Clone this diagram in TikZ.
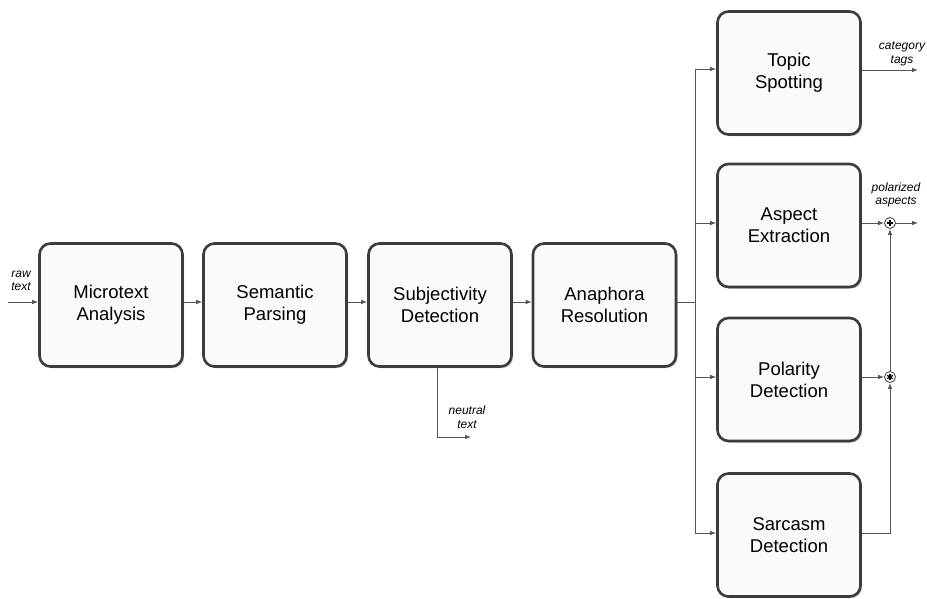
\documentclass[tikz,border=0pt]{standalone}
\usepackage{fontspec}
\setmainfont{Liberation Sans}
\usetikzlibrary{arrows.meta,shadows}
\definecolor{boxline}{HTML}{3C3C3C}
\definecolor{wire}{HTML}{555555}
\definecolor{boxfill}{HTML}{FAFAFA}
\begin{document}
\begin{tikzpicture}[x=1pt,y=-1pt,
  stage/.style={draw=boxline, line width=2.6pt, rounded corners=11pt, fill=boxfill,
    minimum width=143pt, minimum height=123pt, align=center,
    font=\fontsize{18.5}{22}\selectfont,
    drop shadow={shadow xshift=1.6pt, shadow yshift=-1.6pt, fill=black!45, opacity=0.6}},
  wirearrow/.style={draw=wire, line width=0.8pt, -{Latex[length=6pt,width=4.5pt]}},
  plainwire/.style={draw=wire, line width=0.8pt},
  lbl/.style={font=\fontsize{12}{13.5}\selectfont\itshape, align=center, inner sep=0pt},
  op/.style={circle, draw=boxline, line width=0.8pt, fill=white, minimum size=11pt, inner sep=0pt}]
\useasboundingbox (0,0) rectangle (927,598);

% main row
\node[stage] (mt) at (111,305) {Microtext\\Analysis};
\node[stage] (sp) at (275,305) {Semantic\\Parsing};
\node[stage] (sd) at (440,305) {Subjectivity\\Detection};
\node[stage] (ar) at (604.5,305) {Anaphora\\Resolution};

% right column
\node[stage] (ts) at (789,73) {Topic\\Spotting};
\node[stage] (ae) at (789,225.5) {Aspect\\Extraction};
\node[stage] (pd) at (789,379.5) {Polarity\\Detection};
\node[stage] (sc) at (789,535) {Sarcasm\\Detection};

% operators
\node[op] (plus) at (890,223) {};
\node[op] (star) at (890,377) {};
\draw[line width=1.3pt] ([xshift=-3.2pt]plus.center) -- ([xshift=3.2pt]plus.center)
  ([yshift=-3.2pt]plus.center) -- ([yshift=3.2pt]plus.center);
\foreach \a in {0,60,120} {
  \draw[line width=1.2pt] ([shift={(\a+90:3.2pt)}]star.center) -- ([shift={(\a+270:3.2pt)}]star.center);
}

% coordinates
\coordinate (rawin) at (8,302);
\coordinate (j) at (695,302);
\coordinate (nt) at (471,437);
\coordinate (catout) at (918,70);
\coordinate (aout) at (918,223);

% labels
\node[lbl] (rawl) at (21,281) {raw\\text};
\node[lbl] (neutl) at (467,417) {neutral\\text};
\node[lbl] (catl) at (902,54) {category\\tags};
\node[lbl] (polal) at (896,195) {polarized\\aspects};

% connectors
\draw[wirearrow] (rawin) -- ([yshift=3pt]mt.west);
\draw[wirearrow] ([yshift=3pt]mt.east) -- ([yshift=3pt]sp.west);
\draw[wirearrow] ([yshift=3pt]sp.east) -- ([yshift=3pt]sd.west);
\draw[wirearrow] ([yshift=3pt]sd.east) -- ([yshift=3pt]ar.west);
\draw[plainwire] ([yshift=3pt]ar.east) -- (j);
\draw[wirearrow] ([xshift=-3pt]sd.south) |- (nt);

\draw[wirearrow] (j) |- ([yshift=4pt]ts.west);
\draw[wirearrow] (j) |- ([yshift=2.5pt]ae.west);
\draw[wirearrow] (j) |- ([yshift=2.5pt]pd.west);
\draw[wirearrow] (j) |- ([yshift=2pt]sc.west);

\draw[wirearrow] ([yshift=3pt]ts.east) -- (catout);
\draw[wirearrow] ([yshift=2.5pt]ae.east) -- (plus.west);
\draw[wirearrow] (plus.east) -- (aout);
\draw[wirearrow] ([yshift=2.5pt]pd.east) -- (star.west);
\draw[wirearrow] (star.north) -- (plus.south);
\draw[wirearrow] ([yshift=2pt]sc.east) -| (star.south);
\end{tikzpicture}
\end{document}
